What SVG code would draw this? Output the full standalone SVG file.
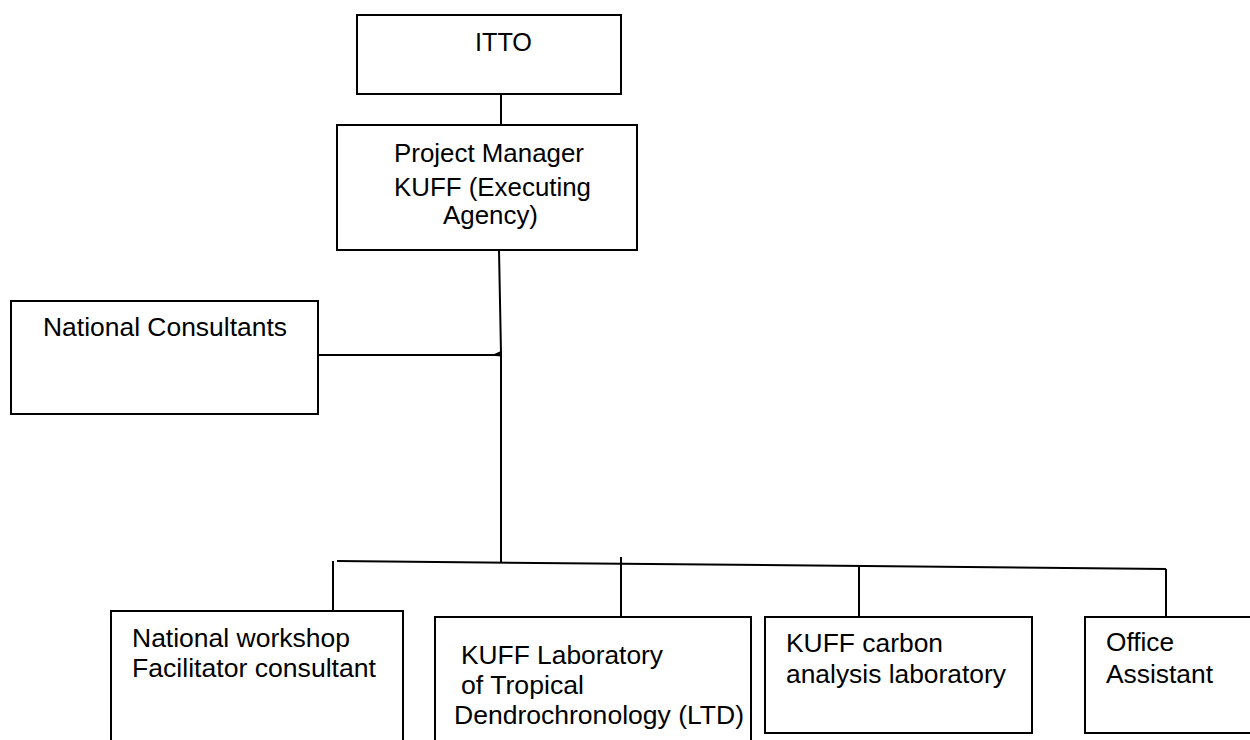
<svg xmlns="http://www.w3.org/2000/svg" width="1250" height="740" viewBox="0 0 1250 740">
<style>
.box{fill:#fff;stroke:#000;stroke-width:2}
.ln{fill:none;stroke:#000;stroke-width:2}
text{font-family:"Liberation Sans",Arial,sans-serif;font-size:26px;fill:#000}
</style>
<rect width="1250" height="740" fill="#fff"/>
<g id="connectors">
<path class="ln" d="M501,95 V125"/>
<path class="ln" d="M499,250 L501,353 L501,562"/>
<path class="ln" d="M318,355 H500"/>
<polygon points="491,355.5 501,351 501,356.5" fill="#000"/>
<path class="ln" d="M337,561 L1166,569"/>
<path class="ln" d="M333,561 V611"/>
<path class="ln" d="M621,557 V617"/>
<path class="ln" d="M859,567 V617"/>
<path class="ln" d="M1166,569 V617"/>
</g>
<g id="itto">
<rect class="box" x="357" y="15" width="264" height="79"/>
<text x="475" y="51" textLength="57" lengthAdjust="spacingAndGlyphs">ITTO</text>
</g>
<g id="pm">
<rect class="box" x="337" y="125" width="300" height="125"/>
<text x="394" y="162" textLength="190" lengthAdjust="spacingAndGlyphs">Project Manager</text>
<text x="394" y="196" textLength="197" lengthAdjust="spacingAndGlyphs">KUFF (Executing</text>
<text x="443" y="224" textLength="95" lengthAdjust="spacingAndGlyphs">Agency)</text>
</g>
<g id="national-consultants">
<rect class="box" x="11" y="301" width="307" height="113"/>
<text x="43" y="336" textLength="244" lengthAdjust="spacingAndGlyphs">National Consultants</text>
</g>
<g id="workshop">
<rect class="box" x="111" y="611" width="292" height="150"/>
<text x="132" y="647" textLength="218" lengthAdjust="spacingAndGlyphs">National workshop</text>
<text x="132" y="677" textLength="244" lengthAdjust="spacingAndGlyphs">Facilitator consultant</text>
</g>
<g id="ltd">
<rect class="box" x="435" y="617" width="316" height="144"/>
<text x="461" y="664" textLength="202" lengthAdjust="spacingAndGlyphs">KUFF Laboratory</text>
<text x="461" y="694" textLength="123" lengthAdjust="spacingAndGlyphs">of Tropical</text>
<text x="454" y="724" textLength="290" lengthAdjust="spacingAndGlyphs">Dendrochronology (LTD)</text>
</g>
<g id="carbon">
<rect class="box" x="765" y="617" width="267" height="116"/>
<text x="786" y="652" textLength="157" lengthAdjust="spacingAndGlyphs">KUFF carbon</text>
<text x="786" y="683" textLength="220" lengthAdjust="spacingAndGlyphs">analysis laboratory</text>
</g>
<g id="office">
<rect class="box" x="1085" y="617" width="175" height="116"/>
<text x="1106" y="651" textLength="68" lengthAdjust="spacingAndGlyphs">Office</text>
<text x="1106" y="683" textLength="107" lengthAdjust="spacingAndGlyphs">Assistant</text>
</g>
</svg>
